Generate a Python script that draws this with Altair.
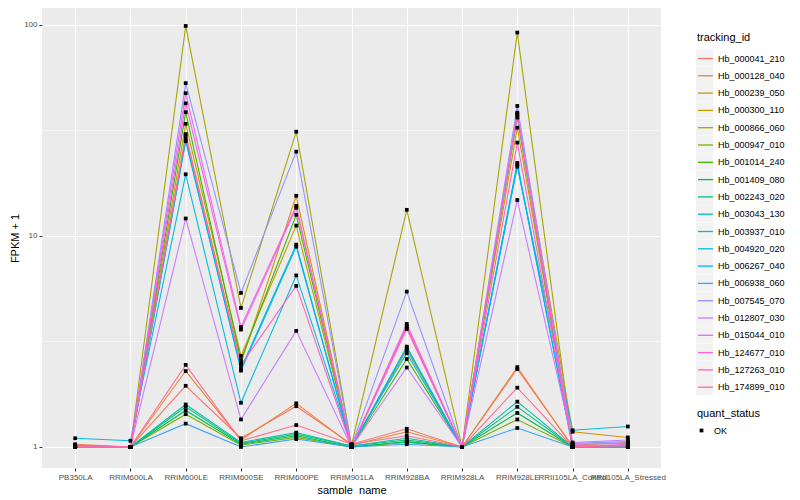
import altair as alt
import pandas as pd

samples = ["PB350LA", "RRIM600LA", "RRIM600LE", "RRIM600SE", "RRIM600PE", "RRIM901LA",
           "RRIM928BA", "RRIM928LA", "RRIM928LE", "RRII105LA_Control", "RRII105LA_Stressed"]

tracking_ids = ["Hb_000041_210", "Hb_000128_040", "Hb_000239_050", "Hb_000300_110",
                "Hb_000866_060", "Hb_000947_010", "Hb_001014_240", "Hb_001409_080",
                "Hb_002243_020", "Hb_003043_130", "Hb_003937_010", "Hb_004920_020",
                "Hb_006267_040", "Hb_006938_060", "Hb_007545_070", "Hb_012807_030",
                "Hb_015044_010", "Hb_124677_010", "Hb_127263_010", "Hb_174899_010"]

# FPKM + 1 per sample (order of `samples`)
hb_000041_210 = [1.02, 1.00, 1.95, 1.10, 1.56, 1.03, 1.22, 1.00, 2.34, 1.01, 1.00]
hb_000128_040 = [1.03, 1.00, 2.29, 1.08, 1.61, 1.02, 1.18, 1.00, 2.39, 1.00, 1.00]
hb_000239_050 = [1.01, 1.00, 30.4, 2.50, 15.5, 1.00, 3.70, 1.00, 38.0, 1.18, 1.11]
hb_000300_110 = [1.00, 1.00, 34.0, 2.70, 11.2, 1.00, 2.88, 1.00, 32.6, 1.02, 1.05]
hb_000866_060 = [1.02, 1.00, 98.9, 4.56, 31.2, 1.02, 13.3, 1.00, 92.0, 1.02, 1.02]
hb_000947_010 = [1.00, 1.00, 1.43, 1.02, 1.11, 1.00, 1.05, 1.00, 1.35, 1.00, 1.00]
hb_001014_240 = [1.00, 1.00, 38.6, 2.58, 12.6, 1.00, 2.61, 1.00, 36.4, 1.00, 1.00]
hb_001409_080 = [1.00, 1.00, 1.49, 1.03, 1.13, 1.00, 1.06, 1.00, 1.45, 1.00, 1.00]
hb_002243_020 = [1.00, 1.00, 1.55, 1.04, 1.15, 1.01, 1.08, 1.00, 1.55, 1.00, 1.00]
hb_003043_130 = [1.00, 1.00, 1.59, 1.05, 1.17, 1.01, 1.10, 1.00, 1.64, 1.00, 1.00]
hb_003937_010 = [1.00, 1.00, 28.1, 2.35, 9.10, 1.00, 2.99, 1.00, 22.2, 1.00, 1.00]
hb_004920_020 = [1.10, 1.07, 19.6, 1.62, 6.50, 1.02, 2.78, 1.00, 21.3, 1.20, 1.25]
hb_006267_040 = [1.00, 1.00, 28.6, 2.30, 8.90, 1.00, 2.95, 1.00, 21.8, 1.00, 1.00]
hb_006938_060 = [1.00, 1.00, 1.29, 1.00, 1.09, 1.00, 1.03, 1.00, 1.23, 1.00, 1.00]
hb_007545_070 = [1.01, 1.00, 53.0, 5.37, 25.1, 1.01, 5.45, 1.00, 41.3, 1.04, 1.06]
hb_012807_030 = [1.00, 1.00, 12.1, 1.35, 3.55, 1.00, 2.38, 1.00, 14.8, 1.05, 1.08]
hb_015044_010 = [1.00, 1.00, 47.5, 3.70, 13.9, 1.00, 3.83, 1.00, 38.4, 1.03, 1.04]
hb_124677_010 = [1.00, 1.00, 42.5, 3.60, 13.6, 1.00, 3.74, 1.00, 37.4, 1.00, 1.03]
hb_127263_010 = [1.00, 1.00, 29.7, 2.45, 5.80, 1.00, 3.62, 1.00, 27.7, 1.00, 1.02]
hb_174899_010 = [1.00, 1.00, 2.45, 1.07, 1.27, 1.03, 1.13, 1.00, 1.91, 1.00, 1.00]

series = [hb_000041_210, hb_000128_040, hb_000239_050, hb_000300_110, hb_000866_060,
          hb_000947_010, hb_001014_240, hb_001409_080, hb_002243_020, hb_003043_130,
          hb_003937_010, hb_004920_020, hb_006267_040, hb_006938_060, hb_007545_070,
          hb_012807_030, hb_015044_010, hb_124677_010, hb_127263_010, hb_174899_010]

y_ticks = [1, 10, 100]
minor_breaks = [3.162, 31.62]

palette = ["#F8766D", "#EA8331", "#D89000", "#C09B00", "#A3A500", "#7CAE00", "#39B600",
           "#00BB4E", "#00BF7D", "#00C1A3", "#00BFC4", "#00BAE0", "#00B0F6", "#35A2FF",
           "#9590FF", "#C77CFF", "#E76BF3", "#FA62DB", "#FF62BC", "#FF6C90"]
key_grey = ["#F2F2F2"] * len(tracking_ids)

rows = []
for tid, vals in zip(tracking_ids, series):
    for i, (s, v) in enumerate(zip(samples, vals)):
        rows.append({"sample_name": s, "tracking_id": tid, "key": tid, "fpkm1": v,
                     "quant_status": "OK", "idx": i})
df = pd.DataFrame(rows)

FONT = "Liberation Sans"

x_enc = alt.X("sample_name:N", sort=samples,
              scale=alt.Scale(type="point", padding=0.6),
              axis=alt.Axis(title="sample_name", labelAngle=0, labelOverlap=False,
                            labelBound=False, grid=True, gridColor="white", gridWidth=1.1,
                            domain=False, tickColor="#333333", tickSize=3, tickWidth=1,
                            labelColor="#4D4D4D", labelFontSize=8, labelPadding=2,
                            labelFont=FONT, titleFont=FONT, titleFontSize=11,
                            titleFontWeight="normal", titleColor="black", titlePadding=3))

y_scale = alt.Scale(type="log", domain=[0.795, 120.3], nice=False)
y_axis = alt.Axis(title="FPKM + 1", values=y_ticks, format="d", grid=True,
                  gridColor="white", gridWidth=1.1, domain=False,
                  tickColor="#333333", tickSize=3, labelColor="#4D4D4D",
                  labelFontSize=8, labelPadding=2, labelFont=FONT, labelOverlap=False,
                  titleFont=FONT, titleFontSize=11, titleFontWeight="normal",
                  titleColor="black", titlePadding=3)
y_enc = alt.Y("fpkm1:Q", scale=y_scale, axis=y_axis)

minor = alt.Chart(pd.DataFrame({"fpkm1": minor_breaks})).mark_rule(
    color="white", strokeWidth=0.55).encode(y=y_enc)

# invisible layer that only provides the grey legend key backgrounds
keys = alt.Chart(df).mark_point(filled=True, opacity=0, size=1).encode(
    x=x_enc, y=y_enc,
    fill=alt.Fill("key:N", scale=alt.Scale(domain=tracking_ids, range=key_grey),
                  legend=alt.Legend(title="", orient="none", legendX=654,
                                    legendY=41.5, symbolType="square", symbolSize=289,
                                    symbolOpacity=1, symbolStrokeWidth=0,
                                    labelExpr="''", labelFontSize=9,
                                    rowPadding=0.3, symbolLimit=40, labelOffset=0)),
)

lines = alt.Chart(df).mark_line(strokeWidth=1.07).encode(
    x=x_enc, y=y_enc,
    stroke=alt.Stroke("tracking_id:N",
                      scale=alt.Scale(domain=tracking_ids, range=palette),
                      legend=alt.Legend(title="tracking_id", orient="none", legendX=655,
                                        legendY=24, symbolType="stroke", symbolSize=225,
                                        symbolStrokeWidth=1.3, labelFontSize=9,
                                        labelFont=FONT, titleFont=FONT, titleFontSize=11,
                                        titleFontWeight="normal", rowPadding=3.3,
                                        symbolLimit=40, titlePadding=7, labelOffset=4)),
    order=alt.Order("idx:Q"),
)

points = alt.Chart(df).mark_point(filled=True, size=14, color="black", opacity=1).encode(
    x=x_enc, y=y_enc,
    shape=alt.Shape("quant_status:N", scale=alt.Scale(range=["square"]),
                    legend=alt.Legend(title="quant_status", orient="none", legendX=655,
                                      legendY=400, symbolSize=14, symbolFillColor="black",
                                      labelFontSize=9, labelFont=FONT, titleFont=FONT,
                                      titleFontSize=11, titleFontWeight="normal",
                                      titlePadding=7, labelOffset=8)),
)

chart = alt.layer(minor, keys, lines, points).properties(
    width=619, height=460,
    autosize=alt.AutoSizeParams(type="none"),
    padding={"left": 34, "top": 0, "right": 131, "bottom": 26},
).resolve_legend(fill="independent", stroke="independent", shape="independent"
).configure_view(fill="#EBEBEB", strokeWidth=0)

chart.save("out.html", embed_options={"renderer": "svg", "actions": False})
